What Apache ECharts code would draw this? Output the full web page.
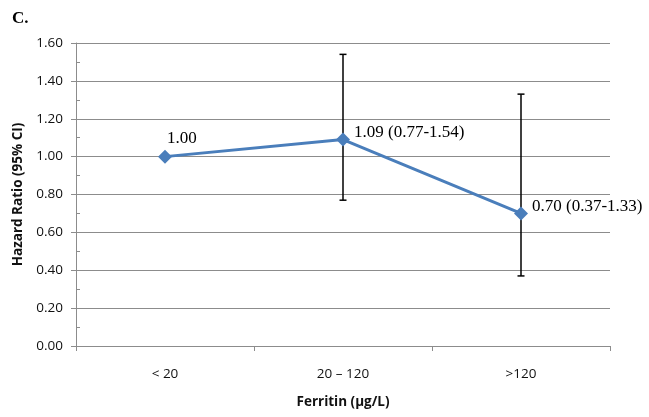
<!DOCTYPE html>
<html><head><meta charset="utf-8">
<script src="https://cdn.jsdelivr.net/npm/echarts@6/dist/echarts.min.js"></script>
<style>html,body{margin:0;padding:0;background:#fff}#c{width:649px;height:417px}</style>
</head><body><div id="c"></div>
<script>
const categories = ['< 20', '20 \u2013 120', '>120'];
const hazardRatio = [1.00, 1.09, 0.70];
const ciLower = [null, 0.77, 0.37];
const ciUpper = [null, 1.54, 1.33];
const pointLabels = ['1.00', '1.09 (0.77-1.54)', '0.70 (0.37-1.33)'];
const yTicks = [0, 1.6, 0.2]; // min, max, interval

const chart = echarts.init(document.getElementById('c'), null, {renderer: 'canvas'});
const grey = '#8c8c8c';
const sans = '"Open Sans", "Noto Sans", sans-serif';
const serif = '"Liberation Serif", "DejaVu Serif", serif';

const errData = categories.map((c, i) => [i, ciLower[i], ciUpper[i]]).filter(d => d[1] != null);

const lineData = hazardRatio.map((v, i) => i === 0
  ? {value: v, label: {position: [9, -13]}}
  : {value: v});

chart.setOption({
  animation: false,
  title: {text: 'C.', left: 7, top: 5, textStyle: {fontFamily: serif, fontWeight: 'bold', fontSize: 17, color: '#000'}},
  grid: {left: 76, right: 39, top: 43, bottom: 71},
  xAxis: {
    type: 'category', data: categories, boundaryGap: true,
    axisLine: {lineStyle: {color: grey, width: 1}},
    axisTick: {show: true, length: 5, lineStyle: {color: grey}},
    axisLabel: {margin: 21, fontFamily: sans, fontSize: 13.5, color: '#111'},
    name: 'Ferritin (\u00b5g/L)', nameLocation: 'middle', nameGap: 49,
    nameTextStyle: {fontFamily: sans, fontSize: 13.5, fontWeight: 'bold', color: '#111'}
  },
  yAxis: [{
    type: 'value', min: yTicks[0], max: yTicks[1], interval: yTicks[2],
    axisLine: {show: true, lineStyle: {color: grey, width: 1}},
    axisTick: {show: true, length: 5, lineStyle: {color: grey}},
    axisLabel: {margin: 13, fontFamily: sans, fontSize: 13.5, color: '#111', formatter: v => v.toFixed(2)},
    splitLine: {show: true, lineStyle: {color: grey, width: 1}},
    name: 'Hazard Ratio (95% CI)', nameLocation: 'middle', nameGap: 50,
    nameTextStyle: {fontFamily: sans, fontSize: 13.5, fontWeight: 'bold', color: '#111'}
  }, {
    type: 'value', min: yTicks[0], max: yTicks[1], interval: yTicks[2], position: 'left',
    axisLine: {show: false}, axisLabel: {show: false}, splitLine: {show: false},
    axisTick: {show: false, inside: true},
    minorTick: {show: true, splitNumber: 2, length: 4, lineStyle: {color: grey}}
  }],
  series: [{
    type: 'line', data: lineData,
    lineStyle: {color: '#4a7ebb', width: 3},
    itemStyle: {color: '#4a7ebb'},
    symbol: 'diamond', symbolSize: 14,
    label: {
      show: true, position: 'right', distance: 4, offset: [0, -7],
      fontFamily: serif, fontSize: 17, color: '#000',
      formatter: p => pointLabels[p.dataIndex]
    },
    z: 3
  }, {
    type: 'custom', data: errData, z: 2,
    renderItem: (params, api) => {
      const x = api.value(0);
      const lo = api.coord([x, api.value(1)]);
      const hi = api.coord([x, api.value(2)]);
      const w = 3.5;
      const st = {stroke: '#000', lineWidth: 1.5};
      return {type: 'group', children: [
        {type: 'line', shape: {x1: lo[0], y1: lo[1], x2: hi[0], y2: hi[1]}, style: st},
        {type: 'line', shape: {x1: lo[0] - w, y1: lo[1], x2: lo[0] + w, y2: lo[1]}, style: st},
        {type: 'line', shape: {x1: hi[0] - w, y1: hi[1], x2: hi[0] + w, y2: hi[1]}, style: st}
      ]};
    }
  }]
});
</script></body></html>
